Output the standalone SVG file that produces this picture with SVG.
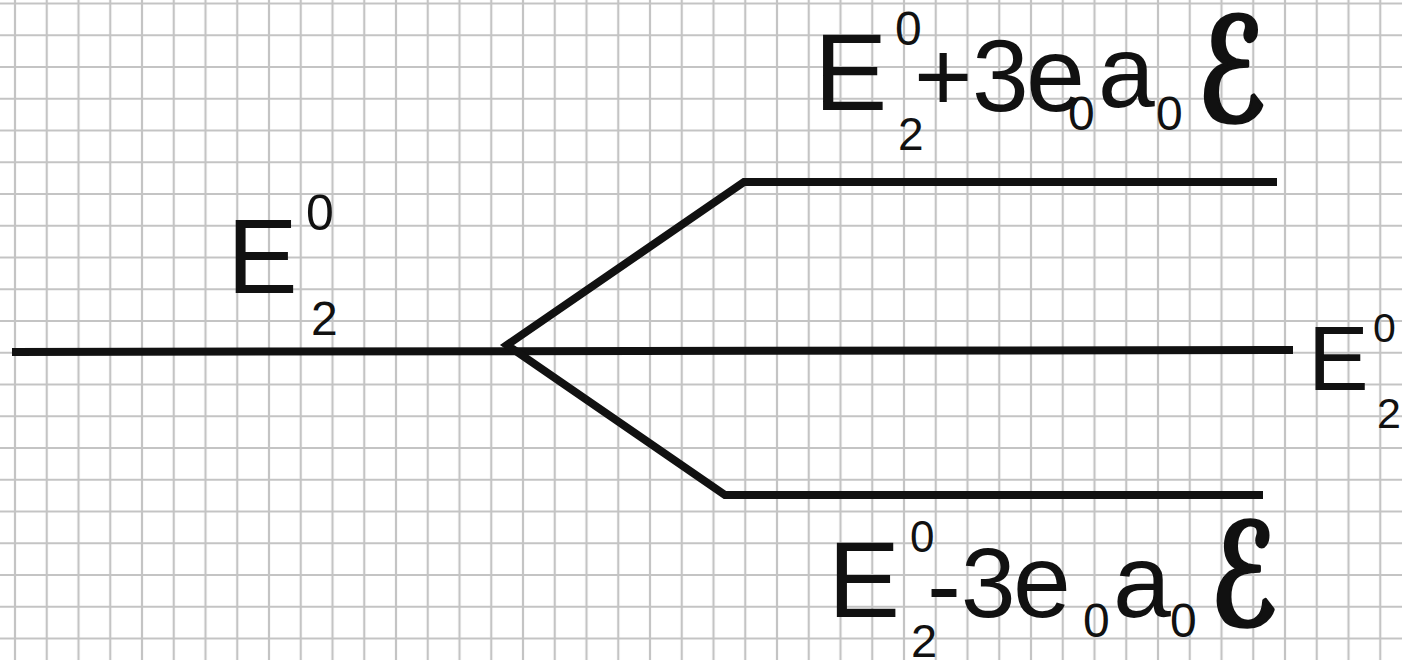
<svg xmlns="http://www.w3.org/2000/svg" width="1402" height="660" viewBox="0 0 1402 660">
  <style>
    .t { font-family: "Liberation Sans", Arial, sans-serif; fill: #111; }
    .s { font-family: "DejaVu Sans", "DejaVu Serif", serif; fill: #111; stroke: #111; stroke-width: 3; stroke-linejoin: round; font-weight: bold; font-style: italic; font-size: 120px; }
    .ln { fill: none; stroke: #111; stroke-width: 8; stroke-linejoin: miter; stroke-linecap: butt; }
  </style>
  <defs>
    <pattern id="grid" x="-0.875" y="-12.375" width="31.75" height="31.75" patternUnits="userSpaceOnUse">
      <path d="M15.875 0 V31.75 M0 15.875 H31.75" stroke="#c4c4c4" stroke-width="2.2" fill="none"/>
    </pattern>
  </defs>
  <rect width="1402" height="660" fill="#ffffff"/>
  <rect width="1402" height="660" fill="url(#grid)"/>

  <g id="connectors">
    <path class="ln" d="M12 352 L1293 350"/>
    <path class="ln" d="M1277 182 H744 L507 345 L725 495 H1263"/>
  </g>

  <g id="label-left">
    <text class="t" x="227" y="293" font-size="106">E</text>
    <text class="t" x="306" y="230" font-size="50">0</text>
    <text class="t" x="311" y="335" font-size="48">2</text>
  </g>

  <g id="label-right">
    <text class="t" x="1308" y="390" font-size="91">E</text>
    <text class="t" x="1373" y="342" font-size="41">0</text>
    <text class="t" x="1377" y="428" font-size="43">2</text>
  </g>

  <g id="label-top">
    <text class="t" x="814" y="110" font-size="110">E</text>
    <text class="t" x="895" y="45" font-size="48">0</text>
    <text class="t" x="898" y="150" font-size="46">2</text>
    <text class="t" x="914" y="111" font-size="100">+</text>
    <text class="t" x="972" y="111" font-size="102">3</text>
    <text class="t" x="1026" y="111" font-size="106">e</text>
    <text class="t" x="1068" y="130" font-size="48">0</text>
    <text class="t" x="1098" y="107" font-size="102">a</text>
    <text class="t" x="1156" y="130" font-size="48">0</text>
    <text class="s" x="0" y="0" transform="translate(1198 121) scale(0.8 1.2)">ℰ</text>
  </g>

  <g id="label-bottom">
    <text class="t" x="828" y="617" font-size="108">E</text>
    <text class="t" x="910" y="552" font-size="44">0</text>
    <text class="t" x="911" y="657" font-size="47">2</text>
    <text class="t" x="927" y="620" font-size="102">-</text>
    <text class="t" x="961" y="617" font-size="98">3</text>
    <text class="t" x="1013" y="617" font-size="104">e</text>
    <text class="t" x="1083" y="637" font-size="48">0</text>
    <text class="t" x="1113" y="617" font-size="104">a</text>
    <text class="t" x="1170" y="637" font-size="48">0</text>
    <text class="s" x="0" y="0" transform="translate(1211 625) scale(0.78 1.18)">ℰ</text>
  </g>
</svg>
